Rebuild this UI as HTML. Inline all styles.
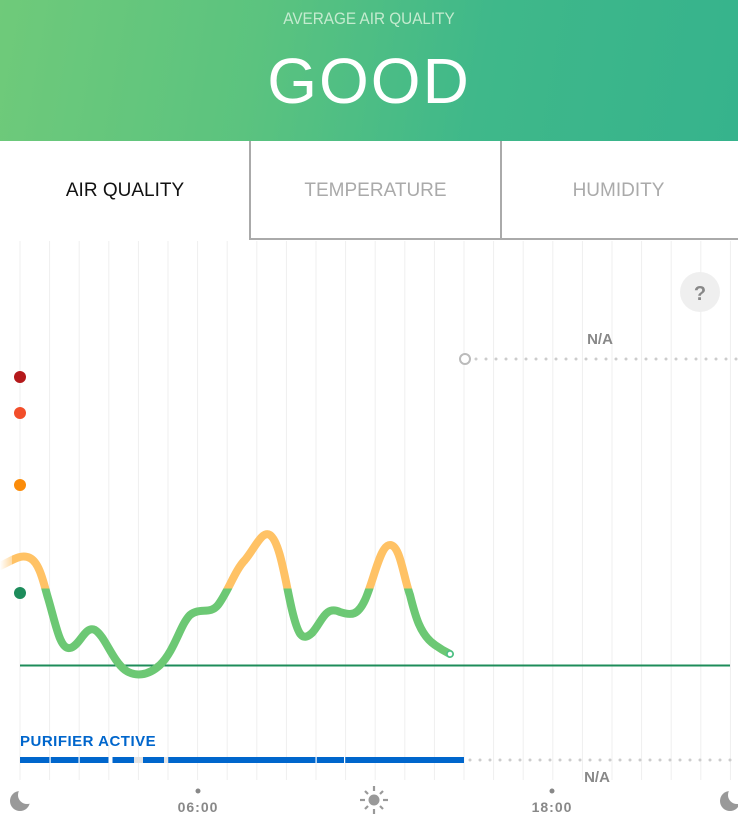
<!DOCTYPE html>
<html><head><meta charset="utf-8"><style>
html,body{margin:0;padding:0;width:738px;height:831px;overflow:hidden;background:#fff;font-family:"Liberation Sans",sans-serif}
.hdr{position:absolute;left:0;top:0;width:738px;height:141px;background:linear-gradient(100deg,#6fca7a 0%,#5bc37f 35%,#3fb88a 65%,#36b38c 100%)}
.sub{position:absolute;top:9px;width:738px;text-align:center;color:#c4ebcf;font-size:17px;transform:scaleX(0.9)}
.good{position:absolute;top:44px;width:738px;text-align:center;color:#fff;font-size:64px;letter-spacing:2px}
.tab{position:absolute;top:141px;height:97px;line-height:99px;text-align:center;font-size:19px;color:#aaa}
</style></head><body>
<div class="hdr"><div class="sub">AVERAGE AIR QUALITY</div><div class="good">GOOD</div></div>
<div class="tab" style="left:0;width:250px;color:#111">AIR QUALITY</div>
<div class="tab" style="left:249px;width:249px;border:2px solid #aaa;border-top:none">TEMPERATURE</div>
<div class="tab" style="left:499px;width:239px;border-bottom:2px solid #aaa">HUMIDITY</div>
<svg style="position:absolute;left:0;top:0" width="738" height="831">
<defs>
<linearGradient id="g" gradientUnits="userSpaceOnUse" x1="0" y1="530" x2="0" y2="680">
<stop offset="0" stop-color="#ffc265"/><stop offset="0.39" stop-color="#ffc265"/><stop offset="0.39" stop-color="#6cc874"/><stop offset="1" stop-color="#6cc874"/></linearGradient>
<linearGradient id="fade" gradientUnits="userSpaceOnUse" x1="0" y1="0" x2="20" y2="0"><stop offset="0" stop-color="#fff" stop-opacity="1"/><stop offset="1" stop-color="#fff" stop-opacity="0"/></linearGradient>
<mask id="m1"><rect x="0" y="780" width="60" height="40" fill="#fff"/><circle cx="27" cy="795" r="9" fill="#000"/></mask>
<mask id="m2"><rect x="700" y="780" width="60" height="40" fill="#fff"/><circle cx="737" cy="795" r="9" fill="#000"/></mask>
</defs>
<g stroke="#efefef" stroke-width="1">
<line x1="20" y1="241" x2="20" y2="780"/><line x1="49.6" y1="241" x2="49.6" y2="780"/><line x1="79.2" y1="241" x2="79.2" y2="780"/><line x1="108.8" y1="241" x2="108.8" y2="780"/><line x1="138.4" y1="241" x2="138.4" y2="780"/><line x1="168" y1="241" x2="168" y2="780"/><line x1="197.6" y1="241" x2="197.6" y2="780"/><line x1="227.2" y1="241" x2="227.2" y2="780"/><line x1="256.8" y1="241" x2="256.8" y2="780"/><line x1="286.4" y1="241" x2="286.4" y2="780"/><line x1="316" y1="241" x2="316" y2="780"/><line x1="345.6" y1="241" x2="345.6" y2="780"/><line x1="375.2" y1="241" x2="375.2" y2="780"/><line x1="404.8" y1="241" x2="404.8" y2="780"/><line x1="434.4" y1="241" x2="434.4" y2="780"/><line x1="464" y1="241" x2="464" y2="780"/><line x1="493.6" y1="241" x2="493.6" y2="780"/><line x1="523.2" y1="241" x2="523.2" y2="780"/><line x1="552.8" y1="241" x2="552.8" y2="780"/><line x1="582.4" y1="241" x2="582.4" y2="780"/><line x1="612" y1="241" x2="612" y2="780"/><line x1="641.6" y1="241" x2="641.6" y2="780"/><line x1="671.2" y1="241" x2="671.2" y2="780"/><line x1="700.8" y1="241" x2="700.8" y2="780"/><line x1="730.4" y1="241" x2="730.4" y2="780"/>
</g>
<circle cx="700" cy="292" r="20" fill="#efefef"/>
<text x="700" y="300" text-anchor="middle" font-size="20" font-weight="bold" fill="#888">?</text>
<text x="600" y="344" text-anchor="middle" font-size="15" font-weight="bold" fill="#888">N/A</text>
<circle cx="465" cy="359" r="5" fill="#fff" stroke="#bbb" stroke-width="2"/>
<line x1="476" y1="359" x2="738" y2="359" stroke="#ccc" stroke-width="3" stroke-linecap="round" stroke-dasharray="0 10"/>
<circle cx="20" cy="377" r="6" fill="#b4191b"/>
<circle cx="20" cy="413" r="6" fill="#f24e2a"/>
<circle cx="20" cy="485" r="6" fill="#fb8c0a"/>
<circle cx="20" cy="593" r="6" fill="#1d8c5b"/>
<line x1="20" y1="665.5" x2="730" y2="665.5" stroke="#1e8c5a" stroke-width="2"/>
<path d="M0,566 C10,562 20,553 30,558 C40,563 44,585 48,598 C56,625 60,650 70,648 C80,646 85,625 95,630 C105,636 112,660 125,670 C135,677 148,676 160,665 C175,650 180,625 190,615 C200,607 210,615 218,605 C228,592 235,570 245,560 C255,548 262,530 270,535 C280,542 285,580 292,610 C298,635 302,642 312,633 C322,622 325,605 340,612 C352,616 358,615 365,600 C374,580 380,545 390,545 C400,545 403,575 410,595 C415,615 420,635 435,645 C442,650 446,652 450,654" fill="none" stroke="url(#g)" stroke-width="8" stroke-linecap="round" stroke-linejoin="round"/>
<rect x="0" y="545" width="12" height="30" fill="url(#fade)"/>
<circle cx="450" cy="654" r="3" fill="#fff" stroke="#4bbf88" stroke-width="1.5"/>
<text x="20" y="746" font-size="15" font-weight="bold" fill="#0066cc" letter-spacing="0.5">PURIFIER ACTIVE</text>
<rect x="20" y="757" width="444" height="6" fill="#0066cc"/>
<g fill="#fff"><rect x="49.5" y="757" width="1.2" height="6"/><rect x="78.5" y="757" width="1.2" height="6"/><rect x="108.5" y="757" width="4" height="6"/><rect x="167" y="757" width="1.2" height="6"/><rect x="315.5" y="757" width="1.2" height="6"/><rect x="344" y="757" width="1.2" height="6"/></g>
<rect x="134" y="757" width="9" height="6" fill="#e3e3e3"/><rect x="164" y="757" width="4" height="6" fill="#e3e3e3"/>
<line x1="470" y1="760" x2="738" y2="760" stroke="#ccc" stroke-width="3" stroke-linecap="round" stroke-dasharray="0 10"/>
<text x="597" y="782" text-anchor="middle" font-size="15" font-weight="bold" fill="#888">N/A</text>
<circle cx="198" cy="791" r="2.5" fill="#888"/><circle cx="552" cy="791" r="2.5" fill="#888"/>
<text x="198" y="812" text-anchor="middle" font-size="14" font-weight="bold" fill="#888" letter-spacing="1">06:00</text>
<text x="552" y="812" text-anchor="middle" font-size="14" font-weight="bold" fill="#888" letter-spacing="1">18:00</text>
<circle cx="20" cy="801" r="10" fill="#999" mask="url(#m1)"/>
<circle cx="730" cy="801" r="10" fill="#999" mask="url(#m2)"/>
<circle cx="374" cy="800" r="5.5" fill="#999"/>
<g stroke="#999" stroke-width="2.2"><line x1="374" y1="786" x2="374" y2="791"/><line x1="374" y1="809" x2="374" y2="814"/><line x1="360" y1="800" x2="365" y2="800"/><line x1="383" y1="800" x2="388" y2="800"/><line x1="365" y1="791" x2="368" y2="794"/><line x1="380" y1="806" x2="383" y2="809"/><line x1="365" y1="809" x2="368" y2="806"/><line x1="380" y1="794" x2="383" y2="791"/></g>
</svg>
</body></html>
